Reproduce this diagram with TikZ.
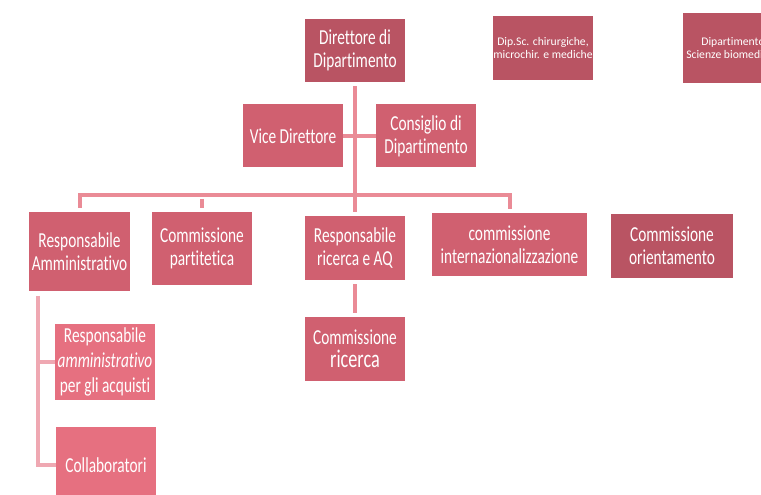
\documentclass[tikz,border=0pt]{standalone}
\usepackage{fontspec}
\usepackage{tikz}
\setmainfont[Ligatures=NoCommon]{Carlito}
\newfontfamily\boxfont[FakeStretch=0.72, Ligatures=NoCommon]{Carlito}
\definecolor{boxDark}{RGB}{185, 84, 99}
\definecolor{boxMid}{RGB}{208, 96, 112}
\definecolor{boxLight}{RGB}{230, 112, 128}
\definecolor{linkPink}{RGB}{234, 139, 150}
\definecolor{linkPale}{RGB}{239, 168, 178}

\begin{document}
\begin{tikzpicture}[x=0.75pt, y=-0.75pt,
    unit/.style={rectangle, inner sep=0pt, text=white, align=center,
      font=\boxfont\fontsize{16}{17}\selectfont,
      minimum width=75pt, minimum height=47.25pt},
    link/.style={linkPink, line width=3pt, shorten <=3pt, shorten >=3pt},
    sublink/.style={linkPale, line width=3pt}]
        \useasboundingbox (0,0) rectangle (761,495);
        % top level
        \node[unit, fill=boxDark] (dir) at (355,50.5) {Direttore di\\Dipartimento};
        \node[unit, fill=boxMid] (vice) at (293,136) {Vice Direttore};
        \node[unit, fill=boxMid] (cons) at (426,136) {Consiglio di\\Dipartimento};
        \node[unit, fill=boxDark, minimum height=48pt, font=\fontsize{8.75}{9.5}\selectfont] (dipsc) at (543,48) {Dip.Sc. chirurgiche,\\microchir. e mediche};
        \node[unit, fill=boxDark, minimum height=52.5pt, font=\fontsize{8.75}{9.5}\selectfont] (dipbio) at (733,48) {Dipartimento\\Scienze biomediche};
        % second level
        \node[unit, fill=boxMid, minimum width=75.75pt, minimum height=59.25pt] (ramm) at (79.5,251.5) {Responsabile\\Amministrativo};
        \node[unit, fill=boxMid, minimum height=54.75pt] (part) at (202,248.5) {Commissione\\partitetica};
        \node[unit, fill=boxMid, minimum height=48pt] (ricaq) at (355,248) {Responsabile\\ricerca e AQ};
        \node[unit, fill=boxMid, minimum width=116.25pt] (intl) at (509.5,244.5) {commissione\\internazionalizzazione};
        \node[unit, fill=boxDark, minimum width=91.5pt, minimum height=48pt] (orient) at (672,246) {Commissione\\orientamento};
        % third level
        \node[unit, fill=boxMid, minimum height=48pt] (comric) at (355,349) {Commissione\\{\fontsize{19}{19}\selectfont ricerca}};
        \node[unit, fill=boxLight, minimum height=57pt] (acq) at (105,362) {Responsabile\\[1.5pt]\textit{amministrativo}\\[1.5pt]per gli acquisti};
        \node[unit, fill=boxLight, minimum height=57pt] (collab) at (106,465) {Collaboratori};
        % connectors
        \coordinate (bus) at (355,195);
        \coordinate (trunk) at (38,296);
        \draw[link] (dir.south) -- (ricaq.north);
        \draw[link, shorten <=0pt, shorten >=0pt] (vice.east) -- (cons.west);
        \draw[link] (ramm.north) -- (ramm.north |- bus) -- (intl.north |- bus) -- (intl.north);
        \draw[link] (part.north |- bus) -- (part.north);
        \draw[link] (ricaq.south) -- (comric.north);
        \draw[sublink] (trunk) |- (collab.west);
        \draw[sublink] (trunk |- acq.west) -- (acq.west);
      \end{tikzpicture}
\end{document}
